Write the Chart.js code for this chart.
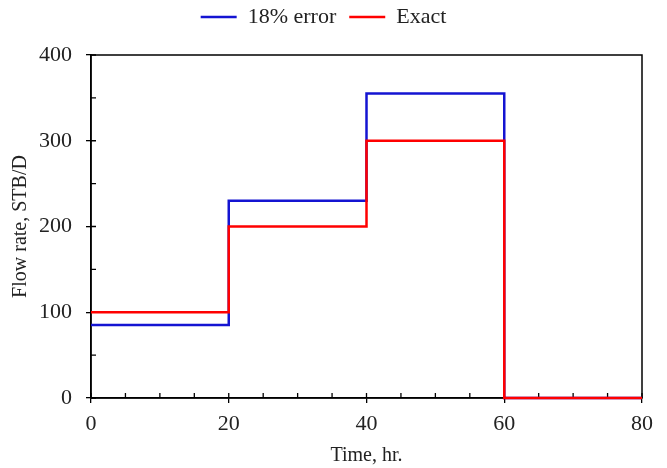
<!DOCTYPE html>
<html>
<head>
<meta charset="utf-8">
<script src="https://cdn.jsdelivr.net/npm/chart.js@4"></script>
<style>
  html, body { margin: 0; padding: 0; background: #fff; }
  #wrap { width: 667px; height: 468px; }
</style>
</head>
<body>
<div id="wrap"><canvas id="flowChart"></canvas></div>
<script>
// step start times (hr) and flow rates (STB/D)
const times = [0, 20, 40, 60, 80];
const errorRates = [85, 230, 355, 0, 0];
const exactRates = [100, 200, 300, 0, 0];
const seriesLabels = ['18% error', 'Exact'];

const FONT = '"Liberation Serif", "DejaVu Serif", serif';

const toPoints = (vals) => times.map((t, i) => ({ x: t, y: vals[i] }));

// inside ticks (major + minor) and the box around the plot, under the lines
const frameTicks = {
    id: 'frameTicks',
    beforeDatasetsDraw(chart) {
        const { ctx, chartArea: a, scales } = chart;
        ctx.save();
        ctx.strokeStyle = '#000';
        ctx.lineWidth = 1.3;
        ctx.beginPath();
        for (let v = 0; v <= 80; v += 5) {
            const px = scales.x.getPixelForValue(v);
            ctx.moveTo(px, a.bottom);
            ctx.lineTo(px, a.bottom - 5);
        }
        for (let v = 0; v <= 400; v += 50) {
            const py = scales.y.getPixelForValue(v);
            ctx.moveTo(a.left, py);
            ctx.lineTo(a.left + 5, py);
        }
        ctx.stroke();
        ctx.lineWidth = 1.5;
        ctx.strokeRect(a.left, a.top, a.right - a.left, a.bottom - a.top);
        ctx.restore();
    }
};

const ctx = document.getElementById('flowChart').getContext('2d');
new Chart(ctx, {
    type: 'line',
    data: {
        datasets: [{
            label: seriesLabels[0],
            data: toPoints(errorRates),
            borderColor: '#1414d2',
            backgroundColor: '#1414d2',
            borderWidth: 2.5,
            stepped: 'before',
            pointRadius: 0,
            clip: 4,
            order: 2
        }, {
            label: seriesLabels[1],
            data: toPoints(exactRates),
            borderColor: '#ff0000',
            backgroundColor: '#ff0000',
            borderWidth: 2.5,
            stepped: 'before',
            pointRadius: 0,
            clip: 4,
            order: 1
        }]
    },
    options: {
        responsive: true,
        maintainAspectRatio: false,
        animation: false,
        layout: { padding: { left: 5, right: 25, top: -7, bottom: 0 } },
        plugins: {
            tooltip: { enabled: false },
            legend: {
                position: 'top',
                labels: {
                    sort: (a, b) => a.datasetIndex - b.datasetIndex,
                    usePointStyle: true,
                    pointStyle: 'line',
                    pointStyleWidth: 36,
                    padding: 13,
                    color: '#222',
                    font: { family: FONT, size: 22 }
                }
            }
        },
        scales: {
            gap: {
                type: 'linear',
                axis: 'x',
                position: 'top',
                display: true,
                grid: { display: false },
                border: { display: false },
                ticks: { display: false },
                afterFit: (s) => { s.height = 17; }
            },
            x: {
                type: 'linear',
                min: 0,
                max: 80,
                ticks: { stepSize: 20, color: '#222', padding: 8, font: { family: FONT, size: 22 } },
                grid: { drawOnChartArea: false, drawTicks: true, tickLength: 5, color: '#000', lineWidth: 1.3 },
                border: { color: '#000', width: 1.5 },
                title: { display: true, text: 'Time, hr.', color: '#222', padding: { top: 0, bottom: 0 }, font: { family: FONT, size: 20 } },
                afterFit: (s) => { s.height = 70; }
            },
            y: {
                min: 0,
                max: 400,
                ticks: { stepSize: 100, color: '#222', padding: 14, font: { family: FONT, size: 22 } },
                grid: { drawOnChartArea: false, drawTicks: true, tickLength: 5, color: '#000', lineWidth: 1.3 },
                border: { color: '#000', width: 1.5 },
                title: { display: true, text: 'Flow rate, STB/D', color: '#222', font: { family: FONT, size: 20 } },
                afterFit: (s) => { s.width = 86; }
            }
        }
    },
    plugins: [frameTicks]
});
</script>
</body>
</html>
